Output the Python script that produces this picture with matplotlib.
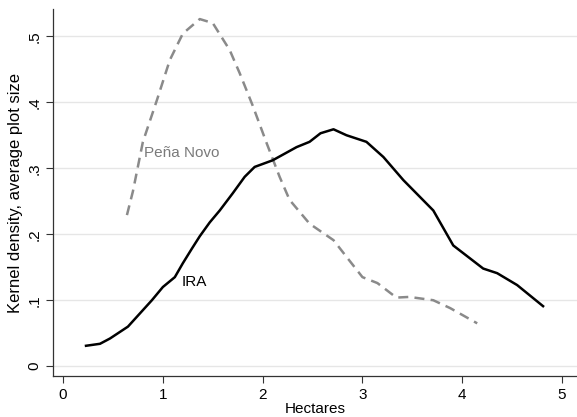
import matplotlib
matplotlib.use("Agg")
import matplotlib.pyplot as plt

plt.rcParams['font.family'] = ['Liberation Sans', 'DejaVu Sans']

# --- данные ---
ira_x = [0.23, 0.37, 0.47, 0.65, 0.77, 0.89, 1.00, 1.12, 1.20, 1.29, 1.37,
         1.47, 1.57, 1.70, 1.82, 1.92, 2.10, 2.34, 2.47, 2.58, 2.71, 2.84, 3.04, 3.21,
         3.41, 3.71, 3.91, 4.21, 4.35, 4.55, 4.81]
ira_y = [0.031, 0.034, 0.042, 0.060, 0.080, 0.100, 0.120, 0.135, 0.156, 0.178, 0.197,
         0.218, 0.236, 0.262, 0.287, 0.302, 0.312, 0.332, 0.340, 0.353, 0.359, 0.350, 0.340, 0.317,
         0.282, 0.236, 0.183, 0.148, 0.141, 0.123, 0.091]

pena_x = [0.64, 0.70, 0.80, 0.94, 1.07, 1.20, 1.37, 1.50, 1.67, 1.77, 1.90,
          2.04, 2.17, 2.27, 2.47, 2.71, 2.87, 3.00, 3.15, 3.34, 3.47, 3.71,
          3.88, 4.15]
pena_y = [0.229, 0.265, 0.340, 0.403, 0.464, 0.504, 0.526, 0.520, 0.479, 0.444, 0.395,
          0.338, 0.287, 0.252, 0.216, 0.191, 0.160, 0.135, 0.126, 0.104, 0.105, 0.100,
          0.088, 0.065]

x_ticks = [0, 1, 2, 3, 4, 5]
y_ticks = [0, 0.1, 0.2, 0.3, 0.4, 0.5]
y_tick_labels = ['0', '.1', '.2', '.3', '.4', '.5']

fig = plt.figure(figsize=(5.77, 4.17), dpi=100)
ax = fig.add_axes([0.092, 0.098, 0.908, 0.88])

ax.plot(pena_x, pena_y, color='#8a8a8a', lw=1.8, dashes=(4, 2.5))
ax.plot(ira_x, ira_y, color='black', lw=1.8)

ax.text(0.81, 0.323, 'Peña Novo', color='#7a7a7a', fontsize=11, va='center', ha='left')
ax.text(1.19, 0.127, 'IRA', color='black', fontsize=11, va='center', ha='left')

ax.set_xlim(-0.1, 5.15)
ax.set_ylim(-0.015, 0.541)
ax.set_xticks(x_ticks)
ax.set_yticks(y_ticks)
ax.set_yticklabels(y_tick_labels, rotation=90, va='center')
ax.tick_params(labelsize=11, length=5, width=0.8, color='#333333')
ax.grid(axis='y', color='#e6e6e6', lw=1)
ax.set_axisbelow(True)
for s in ['top', 'right']:
    ax.spines[s].set_visible(False)
for s in ['left', 'bottom']:
    ax.spines[s].set_color('#333333')
    ax.spines[s].set_linewidth(0.9)

ax.set_xlabel('Hectares', fontsize=11, labelpad=0)
ax.set_ylabel('Kernel density, average plot size', fontsize=12, labelpad=3)

fig.savefig('out.png', dpi=100)
